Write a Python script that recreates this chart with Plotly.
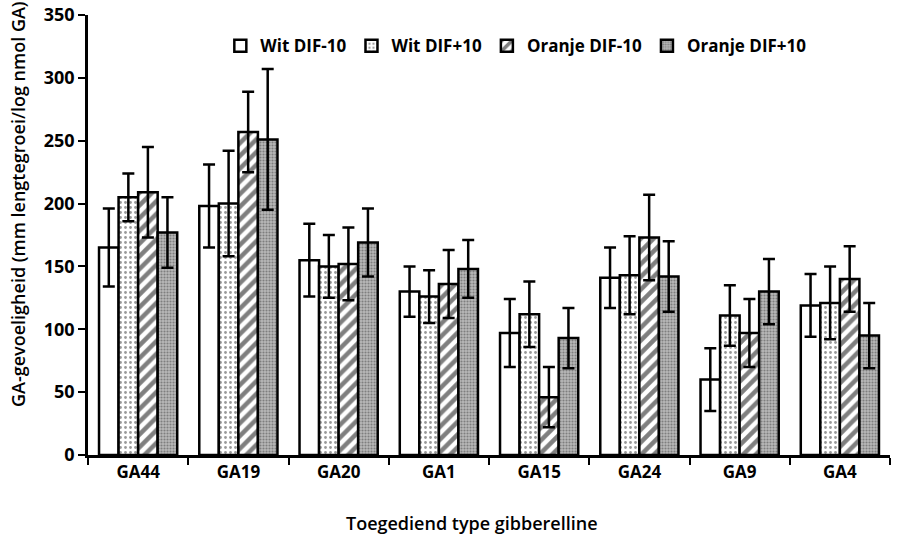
import plotly.graph_objects as go

categories = ["GA44", "GA19", "GA20", "GA1", "GA15", "GA24", "GA9", "GA4"]
series_names = ["Wit DIF-10", "Wit DIF+10", "Oranje DIF-10", "Oranje DIF+10"]
wit_min10 = [165, 198, 155, 130, 97, 141, 60, 119]
wit_plus10 = [205, 200, 150, 126, 112, 143, 111, 121]
oranje_min10 = [209, 257, 152, 136, 46, 173, 97, 140]
oranje_plus10 = [177, 251, 169, 148, 93, 142, 130, 95]
err_wit_min10 = [31, 33, 29, 20, 27, 24, 25, 25]
err_wit_plus10 = [19, 42, 25, 21, 26, 31, 24, 29]
err_oranje_min10 = [36, 32, 29, 27, 24, 34, 27, 26]
err_oranje_plus10 = [28, 56, 27, 23, 24, 28, 26, 26]
x_title = "Toegediend type gibberelline"
y_title = "GA-gevoeligheid (mm lengtegroei/log nmol GA)"

values = [wit_min10, wit_plus10, oranje_min10, oranje_plus10]
errors = [err_wit_min10, err_wit_plus10, err_oranje_min10, err_oranje_plus10]
patterns = [
    dict(shape="", bgcolor="white"),
    dict(shape=".", bgcolor="white", fgcolor="#333", size=5, solidity=0.25),
    dict(shape="/", bgcolor="white", fgcolor="black", size=9, solidity=0.5),
    dict(shape=".", bgcolor="#b8b8b8", fgcolor="#444", size=3, solidity=0.4),
]

FONT = "Open Sans"
fig = go.Figure()
for name, vals, errs, pat in zip(series_names, values, errors, patterns):
    fig.add_trace(go.Bar(
        name=name, x=categories, y=vals,
        marker=dict(color="white", line=dict(color="black", width=2.5), pattern=pat),
        error_y=dict(type="data", array=errs, visible=True, color="black",
                     thickness=2.5, width=6),
    ))

fig.update_layout(
    width=909, height=534,
    margin=dict(l=88, r=19, t=15, b=79),
    paper_bgcolor="white", plot_bgcolor="white",
    barmode="group", bargap=0.22, bargroupgap=0,
    font=dict(family=FONT, color="black", size=14),
    showlegend=True,
    legend=dict(orientation="h", x=0.165, y=0.97, xanchor="left", yanchor="top",
                font=dict(family=FONT, size=17, weight="bold", color="black"),
                itemwidth=30, tracegroupgap=0, bgcolor="rgba(0,0,0,0)"),
    xaxis=dict(showline=True, linecolor="black", linewidth=2.5, automargin=False,
               ticks="outside", tickson="boundaries", ticklen=7, tickwidth=2,
               tickcolor="black",
               tickfont=dict(family=FONT, size=17, weight="bold", color="black")),
    yaxis=dict(range=[0, 350], dtick=50, showline=True, linecolor="black",
               linewidth=2.5, ticks="outside", ticklen=7, tickwidth=2,
               tickcolor="black", showgrid=False, zeroline=False, automargin=False,
               tickfont=dict(family=FONT, size=18, weight="bold", color="black")),
    annotations=[
        dict(text=x_title, xref="paper", yref="paper", x=(472 - 88) / 802, y=0,
             yshift=-68, xanchor="center", yanchor="middle", showarrow=False,
             font=dict(family=FONT, size=18, weight=600, color="black")),
        dict(text=y_title, xref="paper", yref="paper", x=0, y=(455 - 204) / 440,
             xshift=-70, textangle=-90, xanchor="center", yanchor="middle",
             showarrow=False,
             font=dict(family=FONT, size=18, weight=600, color="black")),
    ],
)

fig.write_html("out.html")
